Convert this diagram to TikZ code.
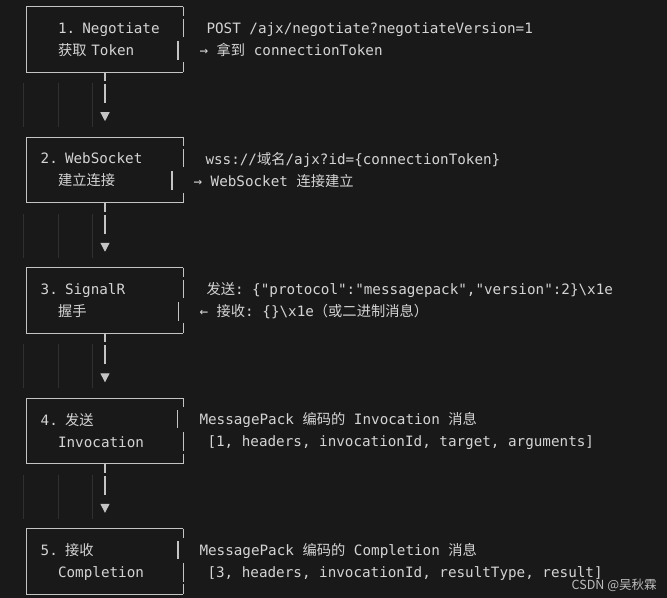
\documentclass[tikz,border=0pt]{standalone}
\usepackage{fontspec}
\setmonofont{DejaVu Sans Mono}
\newfontfamily\cjk{Noto Sans CJK SC}
\usetikzlibrary{arrows.meta,positioning}
\definecolor{termbg}{HTML}{191919}
\definecolor{termtext}{HTML}{D4D4D4}
\definecolor{termline}{HTML}{C4C4C4}
\definecolor{termguide}{HTML}{303030}
\definecolor{termmark}{HTML}{BDBDBD}

\begin{document}
\begin{tikzpicture}[
  font=\ttfamily\fontsize{10.7pt}{16.5pt}\selectfont,
  stage/.style={inner xsep=10.3pt,inner ysep=0pt,text width=96.4pt,minimum width=117pt,minimum height=48.75pt,align=left,text=termtext},
  desc/.style={inner sep=0pt,align=left,text=termtext},
  boxline/.style={termline,line width=0.9pt},
  flow/.style={termline,line width=0.9pt,-{Triangle[length=6.75pt,width=6.75pt]},dash pattern=on 6.75pt off 2.25pt on 14.25pt off 40pt,shorten >=12pt},
  guide/.style={termguide,line width=0.6pt}
]
\fill[termbg] (0,0) rectangle (500.25pt,-448.5pt);
\useasboundingbox (0,0) rectangle (500.25pt,-448.5pt);

\node[stage] (b1) at (78.75pt,-29.6pt) {\hspace*{13pt}1. Negotiate\\\hspace*{13pt}{\cjk 获取} Token};
\node[stage,below=48.75pt of b1] (b2) {2. WebSocket\\\hspace*{13pt}{\cjk 建立连接}};
\node[stage,below=48.75pt of b2] (b3) {3. SignalR\\\hspace*{13pt}{\cjk 握手}};
\node[stage,below=48.75pt of b3] (b4) {4. {\cjk 发送}\\\hspace*{13pt}Invocation};
\node[stage,below=48.75pt of b4] (b5) {5. {\cjk 接收}\\\hspace*{13pt}Completion};

\node[desc,right=7.5pt of b1] (d1) {\hspace*{9.75pt}POST /ajx/negotiate?negotiateVersion=1\\\hspace*{4.5pt}→ {\cjk 拿到} connectionToken};
\node[desc,right=7.5pt of b2] (d2) {\hspace*{9pt}wss://{\cjk 域名}/ajx?id=\{connectionToken\}\\→ WebSocket {\cjk 连接建立}};
\node[desc,right=7.5pt of b3] (d3) {\hspace*{9.75pt}{\cjk 发送}: \{"protocol":"messagepack","version":2\}\textbackslash x1e\\\hspace*{4.5pt}← {\cjk 接收}: \{\}\textbackslash x1e{\cjk （或二进制消息）}};
\node[desc,right=7.5pt of b4] (d4) {\hspace*{4.5pt}MessagePack {\cjk 编码的} Invocation {\cjk 消息}\\\hspace*{10.5pt}[1, headers, invocationId, target, arguments]};
\node[desc,right=7.5pt of b5] (d5) {\hspace*{4.5pt}MessagePack {\cjk 编码的} Completion {\cjk 消息}\\\hspace*{10.5pt}[3, headers, invocationId, resultType, result]};

\node[font=\cjk\fontsize{9.4pt}{11pt}\selectfont,text=termmark,anchor=east,inner sep=0pt] (mark) at (492.75pt,-438.75pt) {CSDN @吴秋霖};

% box frames, right side broken like the terminal glyphs
\foreach \b/\ra/\rb in {b1/0pt/4pt,b2/0pt/8.5pt,b3/0pt/3.5pt,b4/4.3pt/0pt,b5/4pt/0pt}{
  \draw[boxline] (\b.north east) -- (\b.north west) -- (\b.south west) -- (\b.south east);
  \draw[boxline] (\b.north east) -- ++(0,-6.75pt);
  \draw[boxline] ([xshift=-\ra,yshift=-9pt]\b.north east) -- ++(0,-13.5pt);
  \draw[boxline] ([xshift=-\rb,yshift=-25.5pt]\b.north east) -- ++(0,-14.25pt);
  \draw[boxline] ([yshift=7.5pt]\b.south east) -- (\b.south east);
}

% indent guides and arrows
\foreach \u/\l in {b1/b2,b2/b3,b3/b4,b4/b5}{
  \foreach \dx in {-2.8pt,23.5pt,49.3pt}
    \draw[guide] ([xshift=\dx,yshift=-8.25pt]\u.south west) -- ([xshift=\dx,yshift=7.5pt]\l.north west);
  \draw[flow] (\u) -- (\l);
}
\end{tikzpicture}
\end{document}
